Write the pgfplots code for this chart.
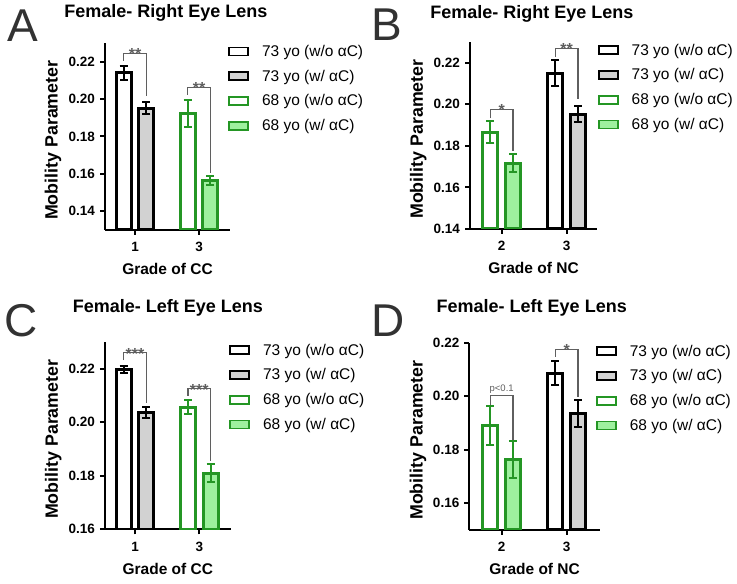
\documentclass[border=0pt]{standalone}
\usepackage{pgfplots}
\pgfplotsset{compat=1.18}
\usepackage{fontspec}
\setmainfont{Liberation Sans}
\definecolor{gedge}{RGB}{36,150,36}
\definecolor{gfill}{RGB}{158,240,158}
\definecolor{grayfill}{RGB}{210,210,210}
\definecolor{brk}{RGB}{95,95,95}
\definecolor{letter}{RGB}{50,50,50}
\pgfplotsset{
  /pgf/number format/assume math mode=true,
  panel/.style={
    scale only axis,
    axis lines=left,
    axis line style={-, line width=2pt, black},
    tick align=outside,
    major tick length=5pt,
    tick style={line width=2pt, black},
    minor tick num=0,
    xtick={0,1},
    clip mode=individual,
    tick label style={font=\fontsize{13.5}{15}\selectfont\bfseries},
    yticklabel style={/pgf/number format/fixed, /pgf/number format/fixed zerofill, /pgf/number format/precision=2, xshift=-1.5pt},
    xticklabel style={yshift=-4pt},
    every axis y label/.style={rotate=90, anchor=center, font=\fontsize{17.8}{20}\selectfont\bfseries},
    every axis x label/.style={at={(axis description cs:0.5,0)}, anchor=base, yshift=-45pt, font=\fontsize{15.5}{18}\selectfont\bfseries},
    ylabel={Mobility Parameter},
    title style={font=\fontsize{18}{21}\selectfont\bfseries, at={(0.5,1)}, anchor=base},
    legend style={at={(1,1)}, anchor=north west, draw=none, fill=none, inner sep=0pt, column sep=11pt, row sep=8pt, font=\fontsize{15.5}{18}\selectfont},
    legend cell align=left,
  },
  mybar/.style={ybar, bar width=15pt, bar shift=0pt,
    legend image code/.code={\draw[##1, line width=1.8pt] (0pt,-4pt) rectangle (19pt,4pt);}},
  eb/.style={error bars/.cd, y dir=both, y explicit, error bar style={line width=2pt, #1}, error mark options={rotate=90, mark size=4pt, line width=2pt, #1}},
  s1/.style={mybar, draw=black, fill=white, line width=3pt, eb=black},
  s2/.style={mybar, draw=black, fill=grayfill, line width=3pt, eb=black},
  s3/.style={mybar, draw=gedge, fill=white, line width=3pt, eb=gedge},
  s4/.style={mybar, draw=gedge, fill=gfill, line width=3pt, eb=gedge},
  bk/.style={brk, line width=1.2pt, forget plot},
}
\tikzset{star/.style={font=\fontsize{16}{18}\selectfont\bfseries, text=brk, anchor=base, inner sep=0pt, yshift=-6.5pt},
  panelletter/.style={font=\fontsize{46}{50}\selectfont, text=letter, anchor=base west, inner sep=0pt}}
\begin{document}
\begin{tikzpicture}[x=1pt,y=1pt]
\path[use as bounding box] (0,0) rectangle (737,584);
% ---------------- A
\begin{axis}[panel, at={(105pt,354pt)}, anchor=south west, width=125pt, height=187pt,
  xmin=-0.469, xmax=1.484, ymin=0.13, ymax=0.23, ytick={0.14,0.16,0.18,0.20,0.22},
  xticklabels={1,3}, xlabel={Grade of CC}, title={Female- Right Eye Lens},
  title style={yshift=19pt, xshift=-1.7pt},
  ylabel style={at={(axis description cs:-0.416,0.48)}},
  legend style={xshift=-2pt, yshift=0pt}]
\addplot[s1] coordinates {(-0.1766,0.2140) +- (0,0.0038)};
\addplot[s2] coordinates {(0.1766,0.1952) +- (0,0.0031)};
\addplot[s3] coordinates {(0.8234,0.1922) +- (0,0.0073)};
\addplot[s4] coordinates {(1.1766,0.1565) +- (0,0.0026)};
\addplot[bk] coordinates {(-0.1766,0.2204) (-0.1766,0.2244) (0.1766,0.2244) (0.1766,0.2014)};
\addplot[bk] coordinates {(0.8234,0.2023) (0.8234,0.2064) (1.1766,0.2064) (1.1766,0.1605)};
\node[star] at (axis cs:0,0.2244) {**};
\node[star] at (axis cs:1,0.2064) {**};
\legend{73 yo (w/o αC), 73 yo (w/ αC), 68 yo (w/o αC), 68 yo (w/ αC)}
\end{axis}
% ---------------- B
\begin{axis}[panel, at={(470pt,355pt)}, anchor=south west, width=127pt, height=187.3pt,
  xmin=-0.488, xmax=1.466, ymin=0.14, ymax=0.23, ytick={0.14,0.16,0.18,0.20,0.22},
  xticklabels={2,3}, xlabel={Grade of NC}, title={Female- Right Eye Lens},
  title style={yshift=17.7pt, xshift=-1.6pt},
  ylabel style={at={(axis description cs:-0.407,0.48)}},
  legend style={xshift=0.7pt, yshift=0pt}]
\addplot[s1] coordinates {(0.8262,0.2148) +- (0,0.0063)};
\addplot[s2] coordinates {(1.1738,0.1952) +- (0,0.0038)};
\addplot[s3] coordinates {(-0.1738,0.1866) +- (0,0.0053)};
\addplot[s4] coordinates {(0.1738,0.1716) +- (0,0.0044)};
\addplot[bk] coordinates {(-0.1738,0.1931) (-0.1738,0.1976) (0.1738,0.1976) (0.1738,0.1777)};
\addplot[bk] coordinates {(0.8262,0.2226) (0.8262,0.2269) (1.1738,0.2269) (1.1738,0.2023)};
\node[star] at (axis cs:0,0.1976) {*};
\node[star] at (axis cs:1,0.2269) {**};
\legend{73 yo (w/o αC), 73 yo (w/ αC), 68 yo (w/o αC), 68 yo (w/ αC)}
\end{axis}
% ---------------- C
\begin{axis}[panel, at={(105pt,54.7pt)}, anchor=south west, width=125.7pt, height=187.6pt,
  xmin=-0.467, xmax=1.488, ymin=0.16, ymax=0.23, ytick={0.16,0.18,0.20,0.22},
  xticklabels={1,3}, xlabel={Grade of CC}, title={Female- Left Eye Lens},
  title style={yshift=23.4pt, xshift=0pt},
  ylabel style={at={(axis description cs:-0.411,0.48)}},
  legend style={xshift=-1.6pt, yshift=0pt}]
\addplot[s1] coordinates {(-0.1757,0.2196) +- (0,0.0012)};
\addplot[s2] coordinates {(0.1757,0.2036) +- (0,0.0019)};
\addplot[s3] coordinates {(0.8243,0.2056) +- (0,0.0026)};
\addplot[s4] coordinates {(1.1757,0.1809) +- (0,0.0034)};
\addplot[bk] coordinates {(-0.1757,0.2231) (-0.1757,0.2259) (0.1757,0.2259) (0.1757,0.2071)};
\addplot[bk] coordinates {(0.8243,0.2099) (0.8243,0.2125) (1.1757,0.2125) (1.1757,0.1853)};
\node[star] at (axis cs:0,0.2259) {***};
\node[star] at (axis cs:1,0.2125) {***};
\legend{73 yo (w/o αC), 73 yo (w/ αC), 68 yo (w/o αC), 68 yo (w/ αC)}
\end{axis}
% ---------------- D
\begin{axis}[panel, at={(469.3pt,54pt)}, anchor=south west, width=130.7pt, height=187.3pt,
  xmin=-0.498, xmax=1.512, ymin=0.15, ymax=0.22, ytick={0.16,0.18,0.20,0.22},
  xticklabels={2,3}, xlabel={Grade of NC}, title={Female- Left Eye Lens},
  title style={yshift=24.4pt, xshift=-2.9pt},
  ylabel style={at={(axis description cs:-0.3925,0.48)}},
  legend style={xshift=-4.2pt, yshift=0pt}]
\addplot[s1] coordinates {(0.8262,0.2086) +- (0,0.0045)};
\addplot[s2] coordinates {(1.1738,0.1935) +- (0,0.0050)};
\addplot[s3] coordinates {(-0.1738,0.1891) +- (0,0.0073)};
\addplot[s4] coordinates {(0.1738,0.1763) +- (0,0.0068)};
\addplot[bk] coordinates {(-0.1738,0.1969) (-0.1738,0.2004) (0.1738,0.2004) (0.1738,0.1838)};
\addplot[bk] coordinates {(0.8262,0.2148) (0.8262,0.2175) (1.1738,0.2175) (1.1738,0.1998)};
\node[font=\fontsize{9.5}{11}\selectfont, text=brk, anchor=south, inner sep=0pt, yshift=1pt] at (axis cs:0,0.2004) {p<0.1};
\node[star] at (axis cs:1,0.2175) {*};
\legend{73 yo (w/o αC), 73 yo (w/ αC), 68 yo (w/o αC), 68 yo (w/ αC)}
\end{axis}
% panel letters
\node[panelletter] at (7pt,542.3pt) {A};
\node[panelletter] at (371.3pt,543pt) {B};
\node[panelletter] at (4.4pt,247pt) {C};
\node[panelletter] at (371.3pt,247pt) {D};
\end{tikzpicture}
\end{document}
